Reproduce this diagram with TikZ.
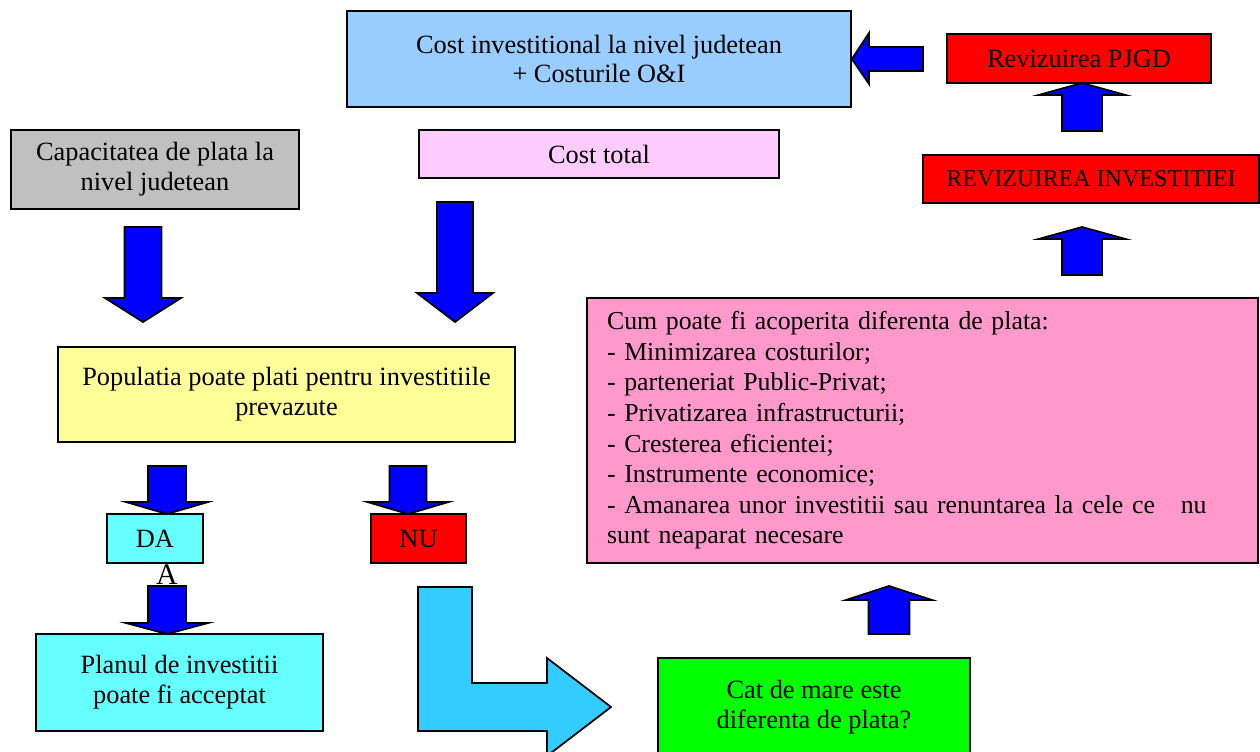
\documentclass[tikz,border=0pt]{standalone}
\usepackage{fontspec}
\setmainfont{Liberation Serif}
\definecolor{bleuclair}{HTML}{99CCFF}
\definecolor{rouge}{HTML}{FF0000}
\definecolor{gris}{HTML}{C0C0C0}
\definecolor{rose}{HTML}{FFCCFF}
\definecolor{jaune}{HTML}{FFFF99}
\definecolor{turquoise}{HTML}{66FFFF}
\definecolor{roz}{HTML}{FF99CC}
\definecolor{vert}{HTML}{00FF00}
\definecolor{bleu}{HTML}{0000FF}
\definecolor{ciel}{HTML}{33CCFF}

\begin{document}
\begin{tikzpicture}[x=0.02cm, y=-0.02cm]
      \tikzstyle{boite}=[draw, line width=1pt, inner sep=0pt, align=center, text=black, font=\fontsize{15}{17}\selectfont]
      \tikzstyle{bloc}=[draw, line width=1pt, fill=bleu, line join=miter]
      \clip (0,0) rectangle (1260,751);

      \node[boite, fill=bleuclair, minimum width=10.08cm, minimum height=1.92cm] (Cost) at (599,59) {Cost investitional la nivel judetean\\+ Costurile O\&I};
      \node[boite, fill=rouge, minimum width=5.28cm, minimum height=0.98cm] (Rev) at (1079,58.5) {Revizuirea PJGD};
      \node[boite, fill=rouge, minimum width=6.72cm, minimum height=0.96cm, font=\fontsize{13.7}{16}\selectfont] (RevInv) at (1091,179) {REVIZUIREA INVESTITIEI};
      \node[boite, fill=rose, minimum width=7.2cm, minimum height=0.96cm] (Total) at (599,154) {Cost total};
      \node[boite, fill=gris, minimum width=5.76cm, minimum height=1.58cm] (Cap) at (155,169.5) {Capacitatea de plata la\\nivel judetean};
      \node[boite, fill=jaune, minimum width=9.14cm, minimum height=1.9cm] (Pop) at (286.5,394.5) {Populatia poate plati pentru investitiile\\prevazute};
      \node[boite, fill=turquoise, minimum width=1.92cm, minimum height=0.98cm] (Da) at (155,538.5) {DA};
      \node[boite, draw=none, font=\fontsize{17}{19}\selectfont] (A) at (167,574.5) {A};
      \node[boite, fill=rouge, minimum width=1.9cm, minimum height=0.98cm] (Nu) at (418.5,538.5) {NU};
      \node[boite, fill=turquoise, minimum width=5.74cm, minimum height=1.94cm] (Plan) at (179.5,682.5) {Planul de investitii\\poate fi acceptat};
      \node[boite, fill=vert, minimum width=6.24cm, minimum height=1.96cm] (Cat) at (814,707) {Cat de mare este\\diferenta de plata?};
      \node[boite, fill=roz, minimum width=13.42cm, minimum height=5.3cm, text width=12.62cm, align=left, font=\fontsize{14.7}{17.4}\selectfont] (Cum) at (922.5,430.5) {Cum poate fi acoperita diferenta de plata:\\
        - Minimizarea costurilor;\\
        - parteneriat Public-Privat;\\
        - Privatizarea infrastructurii;\\
        - Cresterea eficientei;\\
        - Instrumente economice;\\
        - Amanarea unor investitii sau renuntarea la cele ce\ \ \ nu\\
        sunt neaparat necesare};

      % sageti verticale : x, inceput, baza capului, varf, jumatate tija, jumatate cap
      \foreach \cx/\deb/\base/\bout/\tige/\tete in {143/227/298/322/18.5/38, 455/202/293/322/18/38,
          167/466/502/514/19/41, 167/586/623/634/19/41, 408/466/502/514/18.5/40.5,
          1082/131/95/83/20/43.5, 1082/275/239/227/20/43.5, 889/634/600/586/20.5/43}
        \draw[bloc] (\cx-\tige,\deb) -- (\cx-\tige,\base) -- (\cx-\tete,\base) -- (\cx,\bout)
          -- (\cx+\tete,\base) -- (\cx+\tige,\base) -- (\cx+\tige,\deb) -- cycle;

      % sageata spre costuri
      \draw[bloc] (923,47) -- (869,47) -- (869,33) -- (Cost.east) -- (869,84) -- (869,71) -- (923,71) -- cycle;

      % sageata in L
      \draw[bloc, fill=ciel] (418,587) -- (472,587) -- (472,683) -- (547,683) -- (547,658) -- (611,707)
        -- (547,756) -- (547,731) -- (418,731) -- cycle;
    \end{tikzpicture}
\end{document}
